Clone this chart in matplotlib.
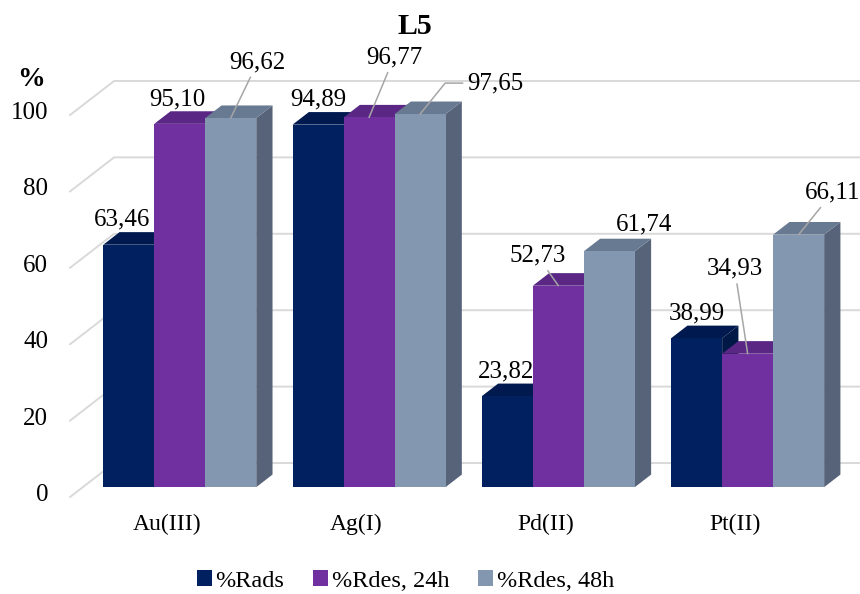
import matplotlib.pyplot as plt
from matplotlib.patches import Polygon, Patch

plt.rcParams['font.family'] = ['Liberation Serif', 'DejaVu Serif']

# Data
categories = ['Au(III)', 'Ag(I)', 'Pd(II)', 'Pt(II)']
series = ['%Rads', '%Rdes, 24h', '%Rdes, 48h']
rads = [63.46, 94.89, 23.82, 38.99]
rdes_24h = [95.10, 96.77, 52.73, 34.93]
rdes_48h = [96.62, 97.65, 61.74, 66.11]
yticks = [0, 20, 40, 60, 80, 100]

# face colours per series: front, top, right side
front_colors = ['#002060', '#7030a0', '#8497b0']
top_colors = ['#001a4f', '#5a2785', '#687a92']
side_colors = ['#001845', '#4f2273', '#566379']
grid_color = '#d9d9d9'
leader_color = '#a6a6a6'

# oblique projection of the 3-D box, in (category, value) units
DEPTH_X = 0.2324
DEPTH_Y = 8.9
BAR_Z0, BAR_Z1 = 0.29, 0.66
BAR_W = 0.2694
WALL_LEFT = -0.512
WALL_RIGHT = 3.44

# label offsets in pixels (right, up) from the top-front centre of each bar
label_offsets = [
    [(-7, 25), (0, 25), (-1, 25), (0, 25)],
    [(-2, 24), (25, 60), (-21, 30), (-13, 85)],
    [(27, 56), (75, 31), (35, 27), (34, 42)],
]
leaders = [
    [False, False, False, False],
    [False, True, True, True],
    [True, True, False, True],
]


def proj(x, y, z):
    return (x + z * DEPTH_X, y + z * DEPTH_Y)


fig = plt.figure(figsize=(8.6, 5.94), dpi=100)
ax = fig.add_axes([0, 0, 1, 1])
ax.set_xlim(-0.8822, 3.6609)
ax.set_ylim(-25.39, 130.10)
ax.axis('off')

# side wall + back wall gridlines and value labels
for t in yticks:
    x0, y0 = proj(WALL_LEFT, t, 0)
    x1, y1 = proj(WALL_LEFT, t, 1)
    x2, _ = proj(WALL_RIGHT, t, 1)
    ax.plot([x0, x1, x2], [y0, y1, y1], color=grid_color, lw=1.4, zorder=1)
    ax.text(WALL_LEFT - 0.116, t + 0.5, str(t), ha='right', va='center', fontsize=18)

# bars, drawn left to right so each bar hides the side of its neighbour
values = [rads, rdes_24h, rdes_48h]
for i in range(len(categories)):
    for j, vals in enumerate(values):
        v = vals[i]
        xl = i + (j - 1.5) * BAR_W
        xr = xl + BAR_W
        side = [proj(xr, 0, BAR_Z0), proj(xr, v, BAR_Z0), proj(xr, v, BAR_Z1), proj(xr, 0, BAR_Z1)]
        top = [proj(xl, v, BAR_Z0), proj(xr, v, BAR_Z0), proj(xr, v, BAR_Z1), proj(xl, v, BAR_Z1)]
        front = [proj(xl, 0, BAR_Z0), proj(xr, 0, BAR_Z0), proj(xr, v, BAR_Z0), proj(xl, v, BAR_Z0)]
        ax.add_patch(Polygon(side, closed=True, facecolor=side_colors[j], edgecolor='none', zorder=2))
        ax.add_patch(Polygon(top, closed=True, facecolor=top_colors[j], edgecolor='none', zorder=2))
        ax.add_patch(Polygon(front, closed=True, facecolor=front_colors[j], edgecolor='none', zorder=2))

# data labels
for j, vals in enumerate(values):
    for i, v in enumerate(vals):
        xy = proj(i + (j - 1) * BAR_W, v, BAR_Z0)
        text = f'{v:.2f}'.replace('.', ',')
        arrow = None
        if leaders[j][i]:
            arrow = dict(arrowstyle='-', color=leader_color, lw=1.1, shrinkA=1, shrinkB=0)
            if j == 2 and i == 1:
                arrow['connectionstyle'] = 'angle,angleA=0,angleB=51,rad=0'
                arrow['relpos'] = (0, 0.5)
        ax.annotate(text, xy=xy, xytext=label_offsets[j][i], textcoords='offset pixels',
                    ha='center', va='center', fontsize=18, arrowprops=arrow, zorder=5)

# category labels
for i, c in enumerate(categories):
    ax.text(i, -7.3, c, ha='center', va='center', fontsize=17)

fig.text(415 / 860, 1 - 27 / 594, 'L5', ha='center', va='center', fontsize=21.5, fontweight='bold')
fig.text(31 / 860, 1 - 79 / 594, '%', ha='center', va='center', fontsize=20, fontweight='bold')

handles = [Patch(facecolor=c, edgecolor='none') for c in front_colors]
fig.legend(handles, series, loc='center', bbox_to_anchor=(405.5 / 860, 1 - 581 / 594),
           ncol=3, frameon=False, fontsize=17.5, handlelength=0.6, handleheight=0.6,
           handletextpad=0.15, columnspacing=1.2)

fig.savefig('out.png', dpi=100)
